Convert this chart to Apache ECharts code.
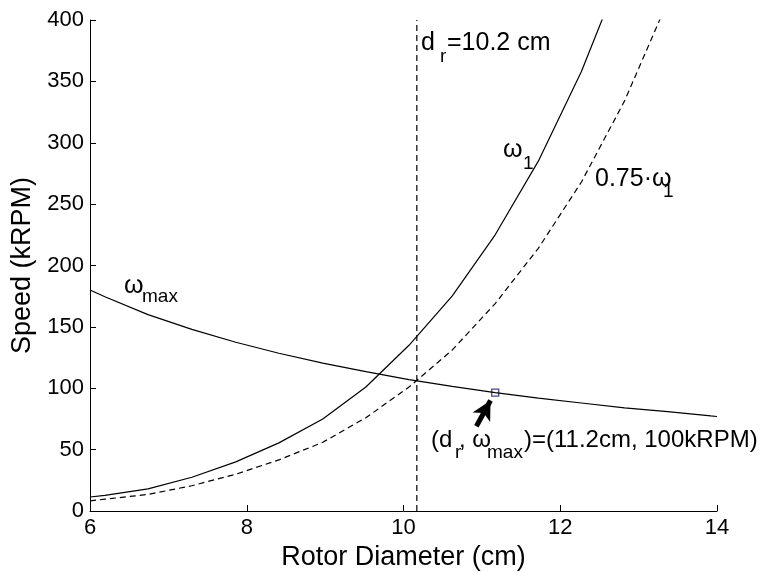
<!DOCTYPE html>
<html lang="en">
<head>
    <meta charset="UTF-8">
    <title>Rotor speed</title>
    <script src="https://cdn.jsdelivr.net/npm/echarts@6/dist/echarts.min.js"></script>
</head>
<style>
    html, body { margin: 0; padding: 0; background-color: #FFFFFF; }
</style>
<body>
<div id="main" style="width: 777px;height:573px;"></div>
<script>
    // rotor diameter samples (cm)
    var diam = [6.0, 6.19, 6.74, 7.30, 7.86, 8.41, 8.97, 9.52, 10.07, 10.62, 11.17, 11.72, 12.27, 12.82, 13.37];
    // omega_1 (kRPM)
    var omega1 = [11.4, 12.8, 18, 27.5, 40, 55.5, 75, 101, 135, 175, 225, 285, 358, 446, 553];
    // 0.75 * omega_1 (kRPM)
    var omega1Low = [8.3, 9.6, 13.5, 20.6, 30, 41.6, 56, 76, 101, 131, 169, 214, 268, 334, 415];
    // omega_max curve
    var diamMax = [6.0, 6.19, 6.74, 7.30, 7.86, 8.41, 8.97, 9.52, 10.07, 10.62, 11.17, 11.72, 12.27, 12.82, 13.37, 13.92, 14.0];
    var omegaMax = [180, 174.5, 160, 148, 137.5, 128.5, 120.5, 113.5, 107, 101.5, 96.5, 92, 88, 84, 81, 77.5, 77];
    // design point and the chosen diameter
    var designPoint = [11.17, 96.5];
    var drLine = 10.17;
    var arrowFrom = [10.93, 69];
    var arrowTo = [11.11, 90];

    function pairs(xs, ys) {
        var out = [];
        for (var i = 0; i < xs.length; i++) out.push([xs[i], ys[i]]);
        return out;
    }

    var font = 'Liberation Sans, Arial, Helvetica, sans-serif';
    function txt(s, x, y, size) {
        return {
            type: 'text', x: x, y: y, silent: true,
            style: { text: s, fontSize: size, fontFamily: font, fill: '#000', align: 'left', verticalAlign: 'middle' }
        };
    }

    var myChart = echarts.init(document.getElementById('main'));
    var option = {
        backgroundColor: '#FFFFFF',
        animation: false,
        grid: { left: 90, right: 60, top: 20, bottom: 62, containLabel: false, outerBoundsMode: 'none' },
        xAxis: {
            type: 'value', min: 6, max: 14, interval: 2,
            name: 'Rotor Diameter (cm)', nameLocation: 'middle', nameGap: 30,
            nameTextStyle: { fontSize: 27, color: '#000', fontFamily: font },
            axisLine: { lineStyle: { color: '#000', width: 1 } },
            axisTick: { inside: true, length: 6, lineStyle: { color: '#000' } },
            axisLabel: { fontSize: 22, color: '#000', fontFamily: font, margin: 6 },
            splitLine: { show: false }
        },
        yAxis: {
            type: 'value', min: 0, max: 400, interval: 50,
            name: 'Speed (kRPM)', nameLocation: 'middle', nameGap: 43,
            nameTextStyle: { fontSize: 27, color: '#000', fontFamily: font },
            axisLine: { show: true, lineStyle: { color: '#000', width: 1 } },
            axisTick: { show: true, inside: true, length: 6, lineStyle: { color: '#000' } },
            axisLabel: { fontSize: 22, color: '#000', fontFamily: font, margin: 6 },
            splitLine: { show: false }
        },
        series: [
            {
                name: 'omega_max', type: 'line', data: pairs(diamMax, omegaMax),
                showSymbol: false, clip: true,
                lineStyle: { color: '#000', width: 1.2 }
            },
            {
                name: 'omega_1', type: 'line', data: pairs(diam, omega1),
                showSymbol: false, clip: true,
                lineStyle: { color: '#000', width: 1.2 }
            },
            {
                name: '0.75 omega_1', type: 'line', data: pairs(diam, omega1Low),
                showSymbol: false, clip: true,
                lineStyle: { color: '#000', width: 1.2, type: [6, 4] }
            },
            {
                name: 'dr', type: 'line', data: [[drLine, 0], [drLine, 400]],
                showSymbol: false,
                lineStyle: { color: '#000', width: 1.2, type: [6, 4] }
            },
            {
                name: 'point', type: 'scatter', data: [designPoint],
                symbol: 'rect', symbolSize: 7,
                itemStyle: { color: 'rgba(0,0,0,0)', borderColor: '#1a1a70', borderWidth: 1.3 },
                markLine: {
                    silent: true, animation: false,
                    symbol: ['none', 'arrow'], symbolSize: [15, 19],
                    label: { show: false },
                    lineStyle: { color: '#000', width: 5, type: 'solid' },
                    data: [[{ coord: arrowFrom }, { coord: arrowTo }]]
                }
            }
        ],
        graphic: [
            txt('d', 421, 43, 25),
            txt('r', 440, 57, 19),
            txt('=10.2 cm', 447, 43, 25),
            txt('\u03c9', 503, 150, 25),
            txt('1', 523, 164, 19),
            txt('0.75\u00b7\u03c9', 595, 179, 25),
            txt('1', 663, 192, 19),
            txt('\u03c9', 124, 286, 25),
            txt('max', 142, 297, 19),
            txt('(d', 431, 440, 24),
            txt('r', 455, 453, 19),
            txt(', \u03c9', 459, 440, 24),
            txt('max', 487, 453, 19),
            txt(')=(11.2cm, 100kRPM)', 524, 440, 24)
        ]
    };
    myChart.setOption(option);
</script>
</body>
</html>
